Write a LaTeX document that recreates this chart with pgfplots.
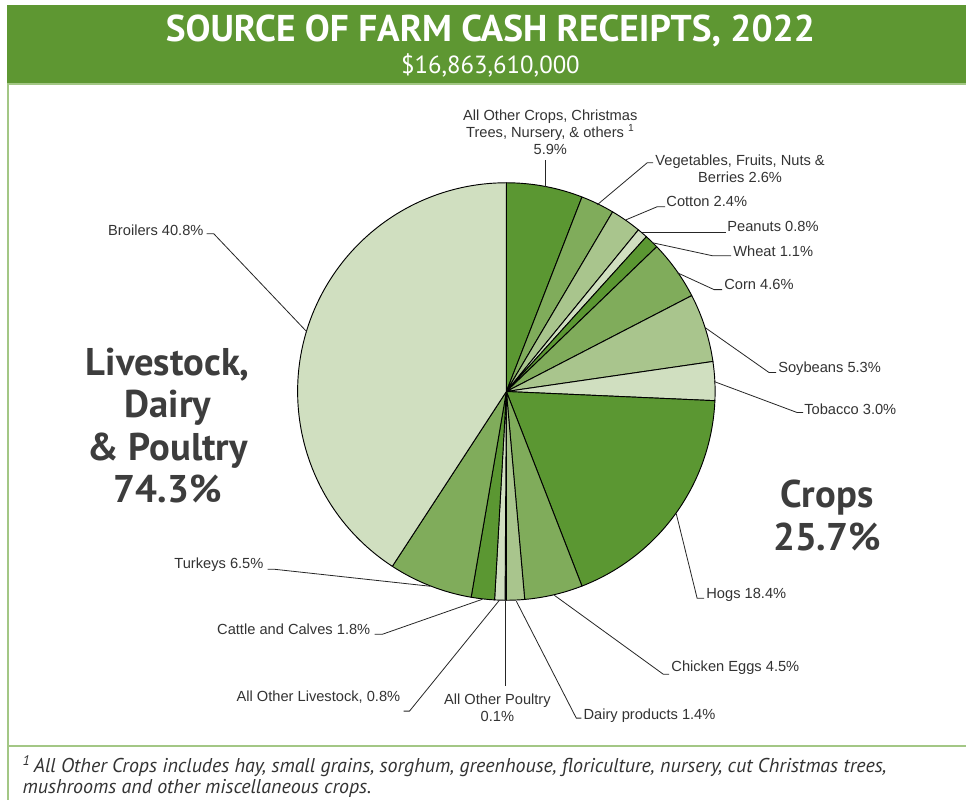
\documentclass[border=0pt]{standalone}
\usepackage{pgfplots}
\usepackage{pgfplotstable}
\pgfplotsset{compat=1.18}
\usepackage{fontspec}
\setmainfont{Liberation Sans}
\newfontfamily\hfont{PT Sans}

\definecolor{pdark}{HTML}{5B9732}
\definecolor{pmed}{HTML}{80AC5B}
\definecolor{plight}{HTML}{A9C58D}
\definecolor{pvlight}{HTML}{D0DFC0}
\definecolor{hdr}{HTML}{5E9732}
\definecolor{rule}{HTML}{A3C785}
\definecolor{txt}{HTML}{333333}

\tikzset{lbl/.style={font=\fontsize{11}{12.75}\selectfont, text=txt, inner sep=0pt}}

% slices clockwise from 12 o'clock, percent of receipts
\pgfplotstableread{
name        value color
OtherCrops  5.9   pdark
Vegetables  2.6   pmed
Cotton      2.4   plight
Peanuts     0.8   pvlight
Wheat       1.1   pdark
Corn        4.6   pmed
Soybeans    5.3   plight
Tobacco     3.0   pvlight
Hogs        18.4  pdark
Eggs        4.5   pmed
Dairy       1.4   plight
OtherPoultry 0.1  plight
OtherLivestock 0.8 pvlight
Cattle      1.8   pdark
Turkeys     6.5   pmed
Broilers    40.8  pvlight
}\piedata

\begin{document}
\begin{tikzpicture}
\begin{axis}[
  width=725.25pt, height=600.75pt, scale only axis,
  xmin=0, xmax=967, ymin=0, ymax=801, y dir=reverse,
  hide axis, clip=false,
]
\fill[white] (0,0) rectangle (967,801);
% header
\fill[hdr] (7,5) rectangle (967,83);
\draw[rule, line width=1.5pt] (7,84) -- (967,84);
\draw[rule, line width=1.5pt] (8,84) -- (8,801);
\draw[rule, line width=1.8pt] (8,747) -- (967,747);
\node[text=white, font=\hfont\bfseries\fontsize{28}{30}\selectfont] at (491,31) {SOURCE OF FARM CASH RECEIPTS, 2022};
\node[text=white, font=\hfont\fontsize{18.6}{20}\selectfont] at (491,66) {\$16,863,610,000};

% pie wedges
\def\cum{0}
\pgfplotstablegetrowsof{\piedata}
\pgfmathtruncatemacro\nrows{\pgfplotsretval-1}
\pgfplotsforeachungrouped \i in {0,...,\nrows}{
  \pgfplotstablegetelem{\i}{value}\of\piedata \let\v\pgfplotsretval
  \pgfplotstablegetelem{\i}{color}\of\piedata \let\c\pgfplotsretval
  \pgfmathsetmacro\a{90-3.6*\cum}
  \pgfmathsetmacro\cum{\cum+\v}
  \pgfmathsetmacro\b{90-3.6*\cum}
  \edef\temp{\noexpand\filldraw[fill=\c, draw=black, line width=0.7pt, line join=round]
    (axis cs:507,392) -- ++(\a:156.75pt) arc[start angle=\a, end angle=\b, radius=156.75pt] -- cycle;}
  \temp
}

% leader lines
\begin{scope}[line width=0.6pt, draw=black!85]
\draw (546,187) -- (546,160);
\draw (598,205) -- (648,163) -- (654,163);
\draw (627,220) -- (658,207) -- (666,207);
\draw (643,233) -- (727,233);
\draw (653,243) -- (713,256) -- (732,256);
\draw (678,273) -- (715,290) -- (723,290);
\draw (706,328) -- (770,373) -- (777,373);
\draw (715,382) -- (798,413) -- (804,413);
\draw (677,514) -- (698,599) -- (705,599);
\draw (555,596) -- (664,675) -- (670,675);
\draw (517,602) -- (577,719) -- (582,719);
\draw (506,602) -- (506,687);
\draw (500,601) -- (410,712) -- (404,712);
\draw (483,600) -- (383,635) -- (375,635);
\draw (431,587) -- (275,570) -- (268,570);
\draw (307,332) -- (214,234) -- (207,234);
\end{scope}

% labels
\node[lbl, align=center] at (551,132) {All Other Crops, Christmas\\Trees, Nursery, \& others \textsuperscript{1}\\5.9\%};
\node[lbl, align=center] at (741,168.5) {Vegetables, Fruits, Nuts \&\\Berries 2.6\%};
\node[lbl, anchor=west] at (667,202) {Cotton 2.4\%};
\node[lbl, anchor=west] at (728,227) {Peanuts 0.8\%};
\node[lbl, anchor=west] at (734,252) {Wheat 1.1\%};
\node[lbl, anchor=west] at (725,285) {Corn 4.6\%};
\node[lbl, anchor=west] at (779,369) {Soybeans 5.3\%};
\node[lbl, anchor=west] at (805,410) {Tobacco 3.0\%};
\node[lbl, anchor=west] at (707,596) {Hogs 18.4\%};
\node[lbl, anchor=west] at (672,669) {Chicken Eggs 4.5\%};
\node[lbl, anchor=west] at (584,717) {Dairy products 1.4\%};
\node[lbl, align=center] at (498,708.5) {All Other Poultry\\0.1\%};
\node[lbl, anchor=east] at (401,698) {All Other Livestock, 0.8\%};
\node[lbl, anchor=east] at (371,630) {Cattle and Calves 1.8\%};
\node[lbl, anchor=east] at (264,565) {Turkeys 6.5\%};
\node[lbl, anchor=east] at (204,231) {Broilers 40.8\%};

% group totals
\node[align=center, text=txt!95, font=\hfont\bfseries\fontsize{29}{32}\selectfont] at (168,426) {Livestock,\\Dairy\\\& Poultry\\74.3\%};
\node[align=center, text=txt!95, font=\hfont\bfseries\fontsize{29}{32}\selectfont] at (828,516) {Crops\\25.7\%};

% footnote
\node[anchor=west, align=left, text=txt, font=\hfont\itshape\fontsize{15}{15.75}\selectfont] at (18,777.5)
  {\textsuperscript{1}\,All Other Crops includes hay, small grains, sorghum, greenhouse, floriculture, nursery, cut Christmas trees,\\mushrooms and other miscellaneous crops.};
\end{axis}
\end{tikzpicture}
\end{document}
